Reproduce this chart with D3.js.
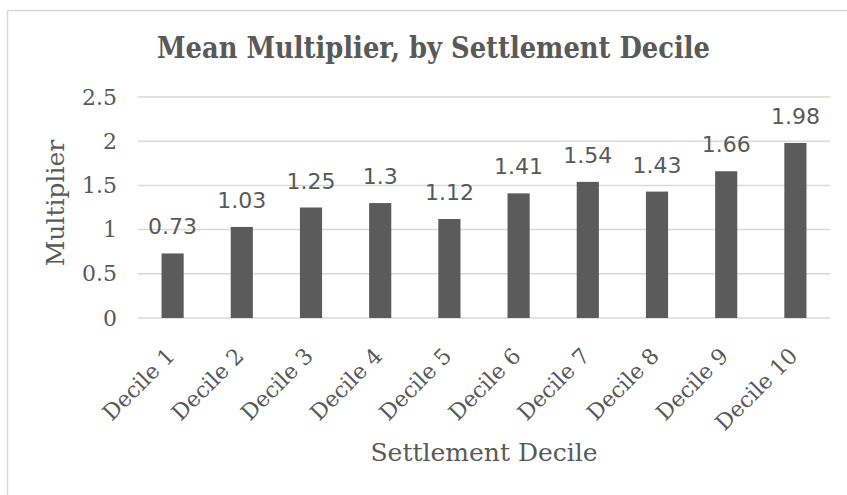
<!DOCTYPE html>
<html>
<head>
<meta charset="utf-8">
<script src="https://cdn.jsdelivr.net/npm/d3@7"></script>
<style>
  body { margin: 0; background: #fff; }
  svg { display: block; }
</style>
</head>
<body>
<svg width="847" height="495"></svg>
<script>
const categories = ['Decile 1', 'Decile 2', 'Decile 3', 'Decile 4', 'Decile 5', 'Decile 6', 'Decile 7', 'Decile 8', 'Decile 9', 'Decile 10']
const multipliers = [0.73, 1.03, 1.25, 1.3, 1.12, 1.41, 1.54, 1.43, 1.66, 1.98]
const yTicks = [0, 0.5, 1, 1.5, 2, 2.5]

const textColor = '#595959'
const barColor = '#5b5b5b'
const gridColor = '#d9d9d9'
const serif = '"DejaVu Serif", serif'
const sans = '"DejaVu Sans", Verdana, sans-serif'

const svg = d3.select('svg')
const plot = {left: 138, right: 830, top: 97, bottom: 318}

// chart frame (runs off the right and bottom of the picture)
svg.append('rect')
  .attr('x', 7.5).attr('y', 10.5)
  .attr('width', 900).attr('height', 600)
  .attr('fill', 'none')
  .attr('stroke', gridColor)
  .attr('stroke-width', 1.5)

const x = d3.scaleBand()
  .domain(categories)
  .range([plot.left, plot.right])
  .paddingInner(0.68)
  .paddingOuter(0.34)

const y = d3.scaleLinear()
  .domain([0, 2.5])
  .range([plot.bottom, plot.top])

// gridlines
svg.append('g')
  .selectAll('line')
  .data(yTicks)
  .enter().append('line')
    .attr('x1', plot.left).attr('x2', plot.right)
    .attr('y1', d => y(d)).attr('y2', d => y(d))
    .attr('stroke', gridColor)
    .attr('stroke-width', 1.5)

// y axis labels
const yAxis = svg.append('g')
  .attr('transform', 'translate(' + (plot.left - 21) + ',0)')
  .call(d3.axisLeft(y).tickValues(yTicks).tickSize(0).tickPadding(0).tickFormat(d3.format('~g')))
yAxis.select('.domain').remove()
yAxis.selectAll('text')
  .attr('fill', textColor)
  .style('font-family', serif)
  .style('font-size', '22px')

// bars
svg.append('g')
  .selectAll('rect')
  .data(multipliers)
  .enter().append('rect')
    .attr('x', (d, i) => x(categories[i]))
    .attr('width', x.bandwidth())
    .attr('y', d => y(d))
    .attr('height', d => y(0) - y(d))
    .attr('fill', barColor)

// value labels
svg.append('g')
  .selectAll('text')
  .data(multipliers)
  .enter().append('text')
    .attr('x', (d, i) => x(categories[i]) + x.bandwidth() / 2)
    .attr('y', d => y(d) - 19)
    .attr('text-anchor', 'middle')
    .attr('fill', textColor)
    .style('font-family', sans)
    .style('font-size', '22px')
    .text(d => d)

// category labels, rotated
svg.append('g')
  .selectAll('text')
  .data(categories)
  .enter().append('text')
    .attr('transform', d => 'translate(' + (x(d) + x.bandwidth() / 2 - 2) + ',' + (plot.bottom + 34) + ') rotate(-45)')
    .attr('text-anchor', 'end')
    .attr('dy', '0.35em')
    .attr('fill', textColor)
    .style('font-family', serif)
    .style('font-size', '22px')
    .text(d => d)

// title
svg.append('text')
  .attr('x', 433.5)
  .attr('y', 58)
  .attr('text-anchor', 'middle')
  .attr('fill', textColor)
  .attr('textLength', 553)
  .attr('lengthAdjust', 'spacingAndGlyphs')
  .style('font-family', serif)
  .style('font-weight', 'bold')
  .style('font-size', '29px')
  .text('Mean Multiplier, by Settlement Decile')

// axis titles
svg.append('text')
  .attr('x', (plot.left + plot.right) / 2)
  .attr('y', 461)
  .attr('text-anchor', 'middle')
  .attr('fill', textColor)
  .style('font-family', serif)
  .style('font-size', '25px')
  .text('Settlement Decile')

svg.append('text')
  .attr('transform', 'translate(64,' + 203 + ') rotate(-90)')
  .attr('text-anchor', 'middle')
  .attr('fill', textColor)
  .style('font-family', serif)
  .style('font-size', '25px')
  .text('Multiplier')
</script>
</body>
</html>
